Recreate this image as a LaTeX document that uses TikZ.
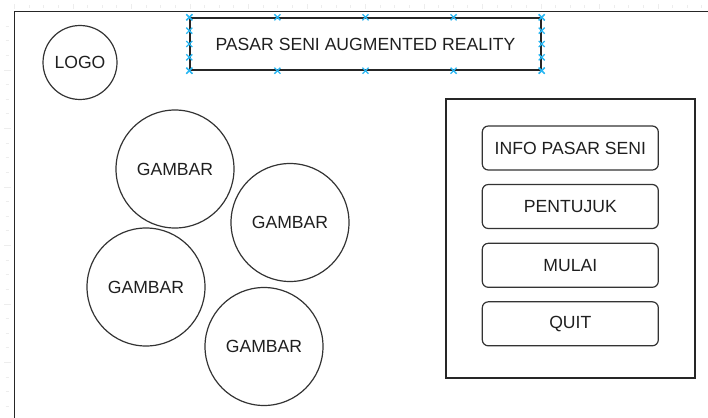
\documentclass[tikz,border=0pt]{standalone}
\usepackage{fontspec}
\setmainfont{Liberation Sans}
\usetikzlibrary{calc}
\begin{document}
\begin{tikzpicture}[x=1pt,y=-1pt,
  font=\fontsize{17.6}{20}\selectfont,
  txt/.style={text=black!88},
  ruler/.style={draw=black!7, line width=0.8pt},
  frame/.style={draw=black!85, line width=1.4pt},
  circ/.style={circle, draw=black!80, line width=1.2pt, inner sep=0pt, txt},
  btn/.style={draw=black!80, line width=1.2pt, rounded corners=6pt, minimum width=176pt, minimum height=44pt, inner sep=0pt, txt},
  handle/.style={draw={rgb,255:red,41;green,182;blue,242}, line width=1.3pt}
]
\useasboundingbox (0,0) rectangle (708,417);

% ruler ticks along the top and left edges
\foreach \i in {0,...,47} {
  \pgfmathsetmacro{\xx}{14.5+14.625*\i}
  \pgfmathtruncatemacro{\m}{mod(\i,4)}
  \ifnum\m=0
    \draw[ruler] (\xx,4) -- (\xx,9);
  \else
    \draw[ruler] (\xx,5.5) -- (\xx,8);
  \fi
}
\foreach \i in {1,...,27} {
  \pgfmathsetmacro{\yy}{11.5+14.625*\i}
  \pgfmathtruncatemacro{\m}{mod(\i,4)}
  \ifnum\m=0
    \draw[ruler] (4,\yy) -- (11,\yy);
  \else
    \draw[ruler] (5.5,\yy) -- (9,\yy);
  \fi
}

% screen frame
\draw[frame] (710,11.5) -- (14.5,11.5) -- (14.5,419);

% title bar with selection handles
\node[draw=black!85, line width=1.4pt, minimum width=351pt, minimum height=52pt, inner sep=0pt, txt]
  (title) at (365.5,44) {PASAR SENI AUGMENTED REALITY};
\foreach \f in {0,0.25,0.5,0.75,1} {
  \foreach \p in {($(title.north west)!\f!(title.north east)$),
                  ($(title.south west)!\f!(title.south east)$),
                  ($(title.north west)!\f!(title.south west)$),
                  ($(title.north east)!\f!(title.south east)$)} {
    \draw[handle] \p ++(-3,-3) -- ++(6,6) \p ++(-3,3) -- ++(6,-6);
  }
}

% logo
\node[circ, minimum size=74pt] (logo) at (80,62.5) {LOGO};

% pictures
\node[circ, minimum size=118pt] (g1) at (175,169) {GAMBAR};
\node[circ, minimum size=118pt] (g2) at (290,222.5) {GAMBAR};
\node[circ, minimum size=118pt] (g3) at (146,287) {GAMBAR};
\node[circ, minimum size=118pt] (g4) at (264,346.5) {GAMBAR};

% menu panel
\node[draw=black!85, line width=1.3pt, minimum width=249pt, minimum height=279pt, inner sep=0pt]
  (panel) at (570.5,238.5) {};
\node[btn] (info) at (570.3,148) {INFO PASAR SENI};
\node[btn] (petunjuk) at (570.3,206.5) {PENTUJUK};
\node[btn] (mulai) at (570.3,265.3) {MULAI};
\node[btn] (quit) at (570.3,323.8) {QUIT};
\end{tikzpicture}
\end{document}
